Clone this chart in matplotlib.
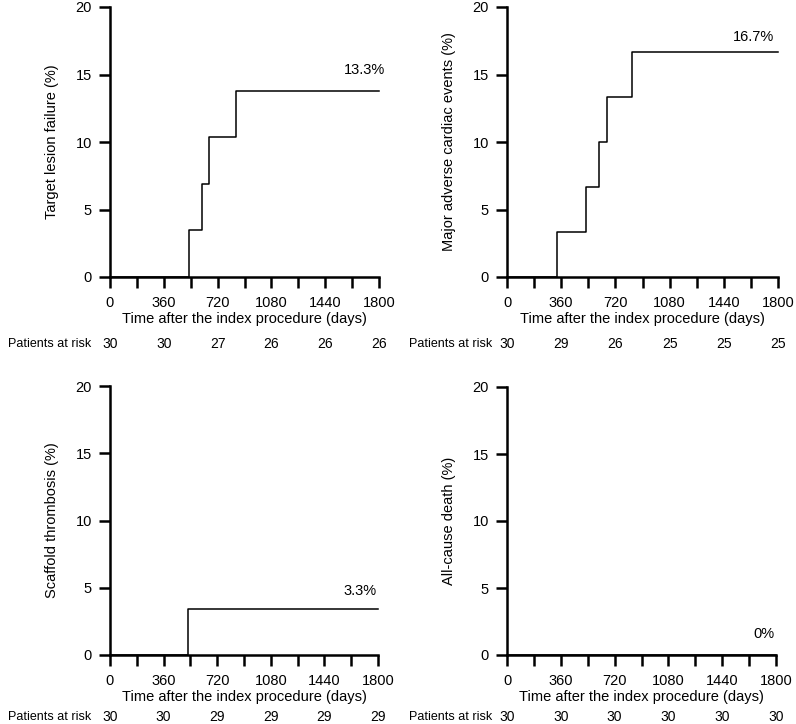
import matplotlib
matplotlib.use("Agg")
import matplotlib.pyplot as plt
import matplotlib.transforms as mtransforms
import numpy as np

plt.rcParams['font.family'] = ['Liberation Sans', 'DejaVu Sans']

# step curves (days, cumulative %)
tlf_days = [0, 531, 614, 665, 840, 1800]
tlf_pct = [0, 3.45, 6.9, 10.35, 13.8, 13.8]

mace_days = [0, 332, 527, 611, 664, 832, 1800]
mace_pct = [0, 3.33, 6.67, 10.0, 13.33, 16.67, 16.67]

st_days = [0, 527, 1800]
st_pct = [0, 3.45, 3.45]

death_days = [0, 1800]
death_pct = [0, 0]

risk_times = [0, 360, 720, 1080, 1440, 1800]
tlf_risk = [30, 30, 27, 26, 26, 26]
mace_risk = [30, 29, 26, 25, 25, 25]
st_risk = [30, 30, 29, 29, 29, 29]
death_risk = [30, 30, 30, 30, 30, 30]

ylabels = ["Target lesion failure (%)", "Major adverse cardiac events (%)",
           "Scaffold thrombosis (%)", "All-cause death (%)"]
final_labels = ["13.3%", "16.7%", "3.3%", "0%"]
label_pos = [(1700, 15.3), (1640, 17.8), (1680, 4.75), (1720, 1.55)]

W, H = 796, 724
fig = plt.figure(figsize=(W / 100, H / 100), dpi=100)

# axes boxes in pixels: left, top, right, bottom
boxes = [(110, 7, 379, 277), (507, 7, 778, 277),
         (110, 386, 378, 655), (507, 387, 776, 655)]
risk_rows = [344, 344, 717, 717]
risk_label_x = [8, 409, 8, 409]

curves = [(tlf_days, tlf_pct), (mace_days, mace_pct),
          (st_days, st_pct), (death_days, death_pct)]
risks = [tlf_risk, mace_risk, st_risk, death_risk]

for i in range(4):
    l, t, r, b = boxes[i]
    ax = fig.add_axes([l / W, 1 - b / H, (r - l) / W, (b - t) / H])
    x, y = curves[i]
    ax.step(x, y, where='post', color='black', lw=1.1, clip_on=False, zorder=3)
    ax.set_xlim(0, 1800)
    ax.set_ylim(0, 20)
    ax.spines['top'].set_visible(False)
    ax.spines['right'].set_visible(False)
    ax.spines['left'].set_linewidth(1.8)
    ax.spines['bottom'].set_linewidth(1.8)
    ax.set_xticks(np.arange(0, 1801, 360))
    ax.set_xticks(np.arange(180, 1800, 360), minor=True)
    ax.set_yticks([0, 5, 10, 15, 20])
    ax.tick_params(axis='both', which='both', direction='out', length=8,
                   width=1.8, labelsize=10.5, color='black')
    ax.tick_params(axis='x', which='major', pad=6)
    ax.tick_params(axis='y', pad=5)
    ax.set_xlabel("Time after the index procedure (days)", fontsize=10.5, labelpad=1)
    ax.set_ylabel(ylabels[i], fontsize=10.5, labelpad=12)
    lx, ly = label_pos[i]
    ax.text(lx, ly, final_labels[i], fontsize=10.5, ha='center', va='center')

    trans = mtransforms.blended_transform_factory(ax.transData, fig.transFigure)
    yrow = 1 - risk_rows[i] / H
    for tx, n in zip(risk_times, risks[i]):
        ax.text(tx, yrow, str(n), transform=trans, fontsize=10,
                ha='center', va='center', clip_on=False)
    fig.text(risk_label_x[i] / W, yrow, "Patients at risk", fontsize=9,
             ha='left', va='center')

fig.savefig("out.png", dpi=100, facecolor='white')
